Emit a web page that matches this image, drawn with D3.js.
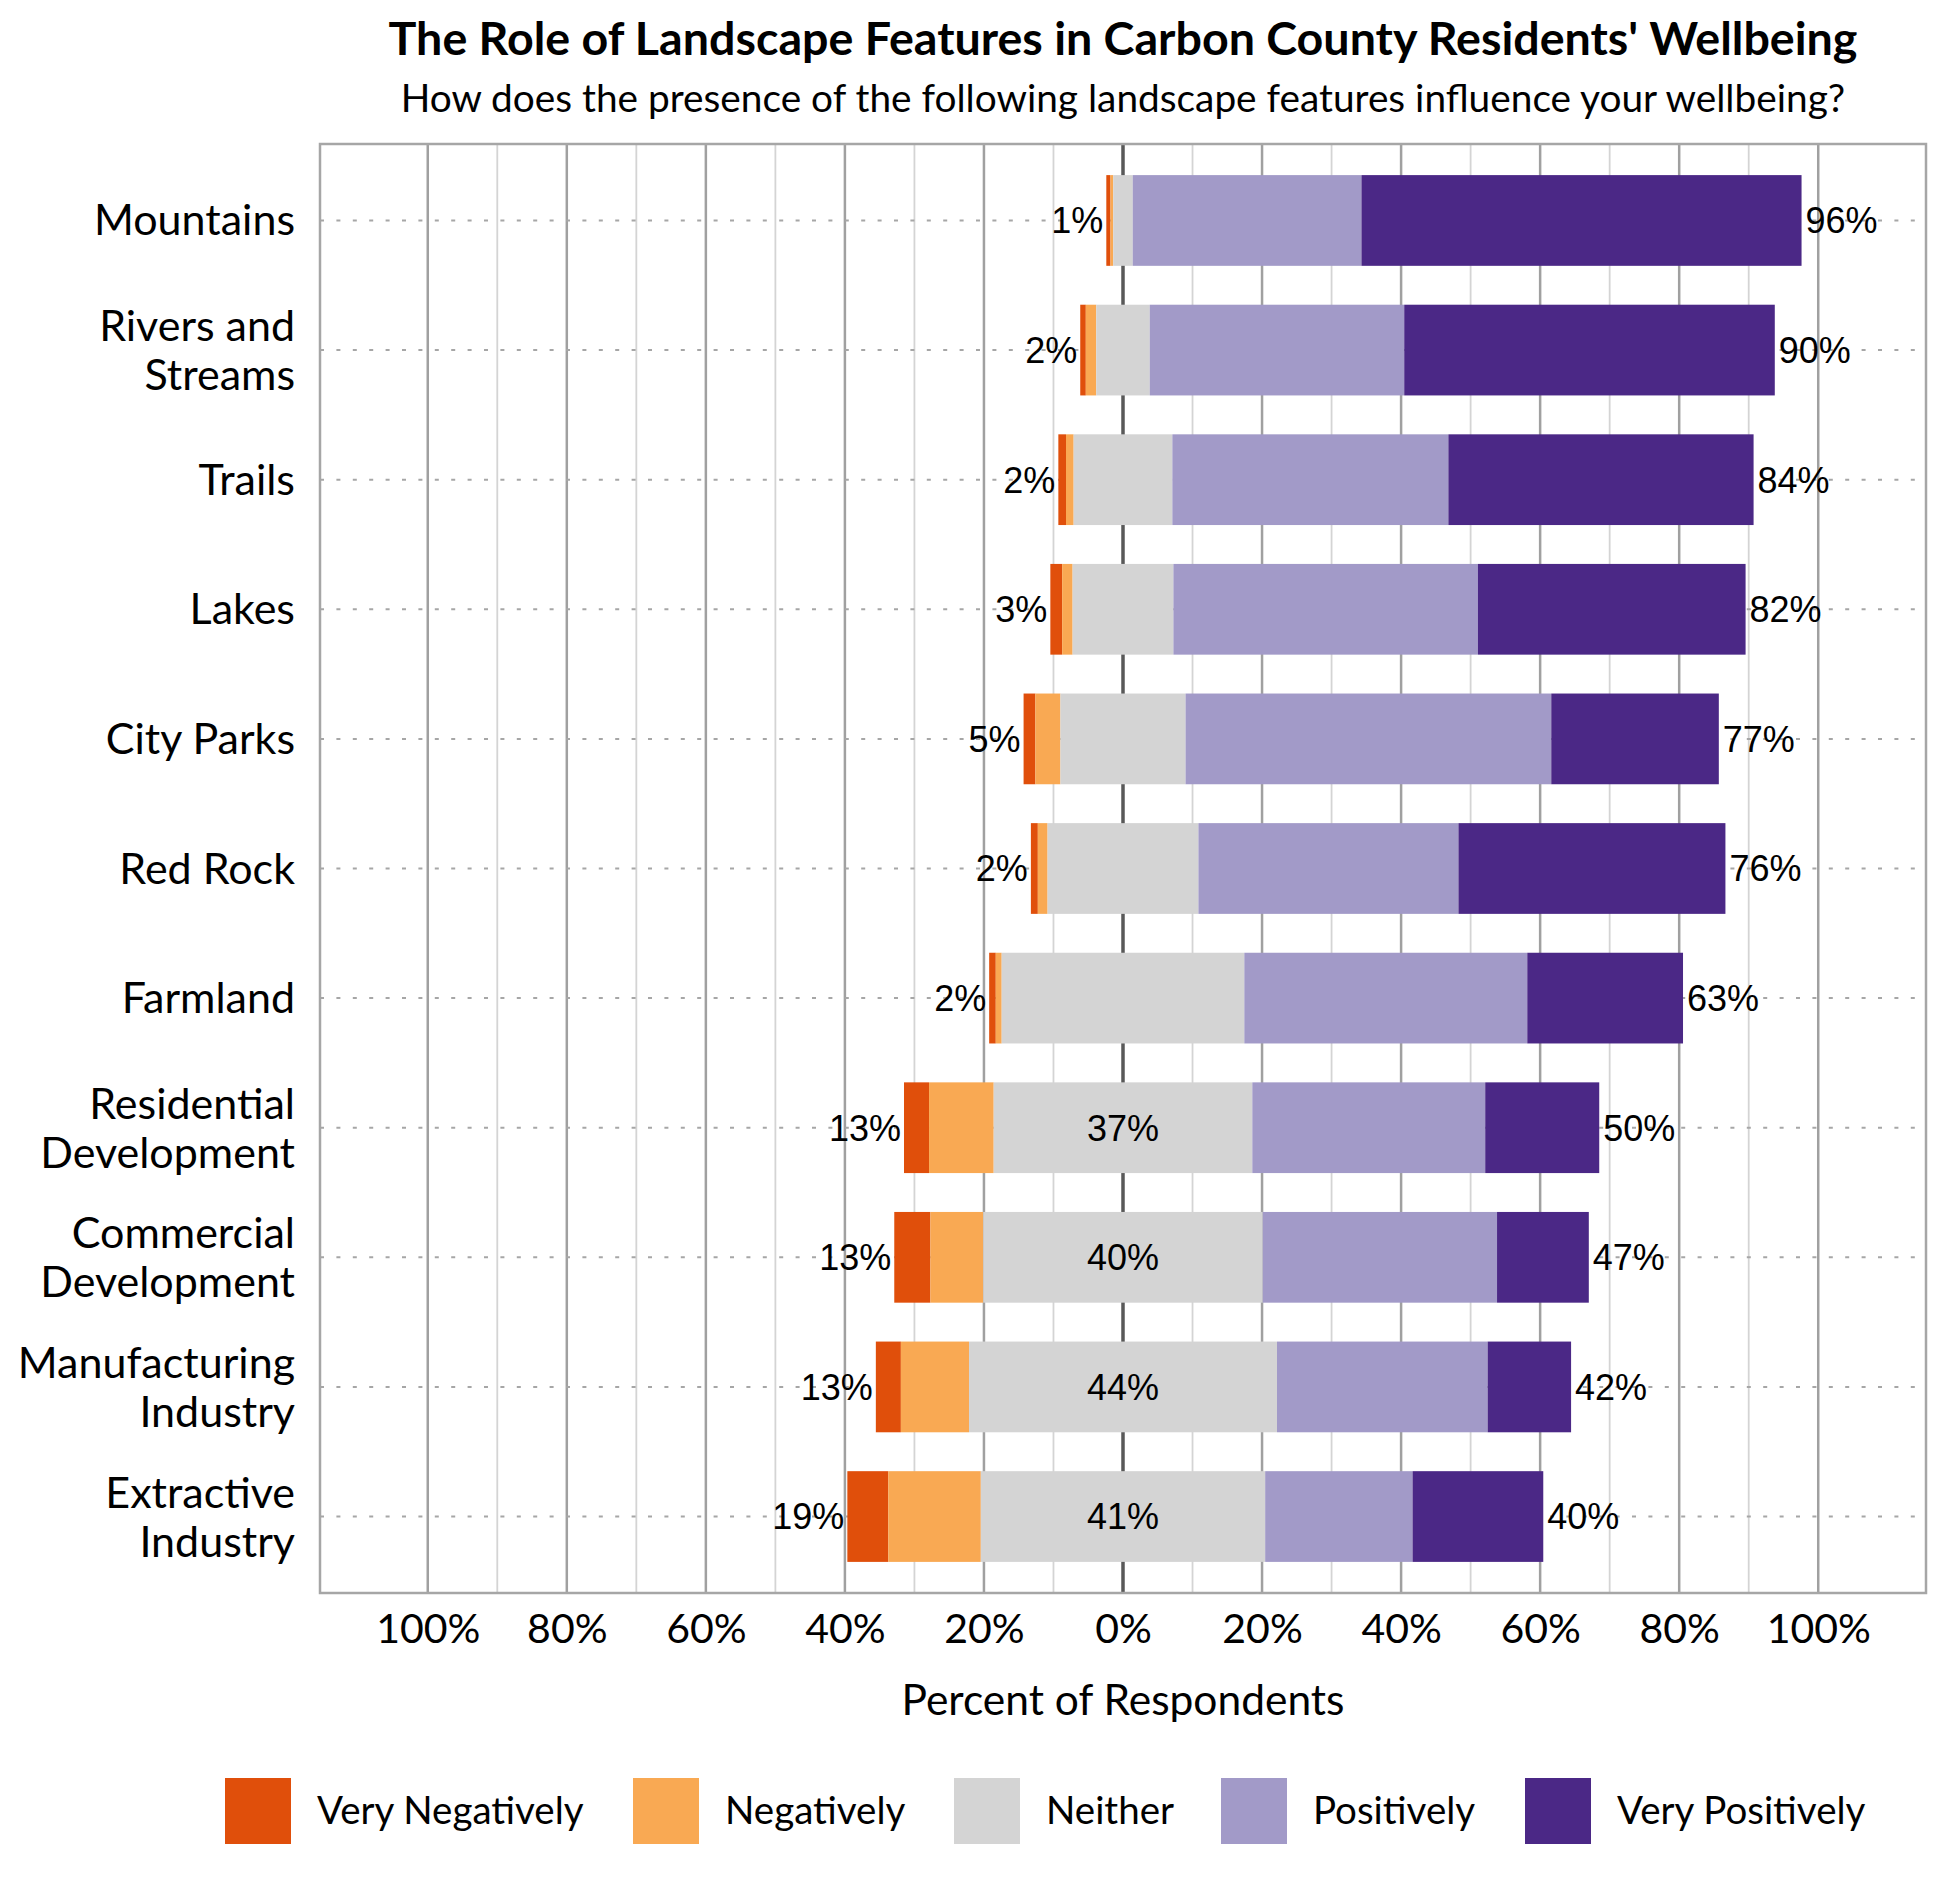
<!DOCTYPE html>
<html>
<head>
<meta charset="utf-8">
<script src="https://cdn.jsdelivr.net/npm/d3@7"></script>
<style>
  body { margin: 0; background: #fff; }
  svg { display: block; }
</style>
</head>
<body>
<div id="chart"></div>
<script>
// survey answers, percent of respondents
var categories = ["Mountains", "Rivers and Streams", "Trails", "Lakes", "City Parks", "Red Rock",
  "Farmland", "Residential Development", "Commercial Development", "Manufacturing Industry", "Extractive Industry"];
var veryNegative = [0.6, 0.8, 1.1, 1.7, 1.7, 1.0, 0.95, 3.6, 5.2, 3.6, 5.9];
var negative     = [0.4, 1.5, 1.1, 1.5, 3.6, 1.4, 0.85, 9.3, 7.6, 9.8, 13.3];
var neither      = [2.8, 7.7, 14.2, 14.5, 18.0, 21.7, 34.9, 37.2, 40.2, 44.3, 40.9];
var positive     = [32.9, 36.6, 39.7, 43.8, 52.6, 37.4, 40.7, 33.5, 33.7, 30.3, 21.2];
var veryPositive = [63.3, 53.3, 43.9, 38.5, 24.1, 38.4, 22.4, 16.4, 13.2, 12.0, 18.8];

var seriesNames = ["Very Negatively", "Negatively", "Neither", "Positively", "Very Positively"];
var seriesColors = ["#e04f0b", "#f9a953", "#d4d4d4", "#a29ac8", "#4b2886"];
var tickValues = [-100, -80, -60, -40, -20, 0, 20, 40, 60, 80, 100];

var titleText = "The Role of Landscape Features in Carbon County Residents' Wellbeing";
var subtitleText = "How does the presence of the following landscape features influence your wellbeing?";
var axisTitle = "Percent of Respondents";

var W = 1950, H = 1890;
var plot = { left: 320, right: 1926, top: 144, bottom: 1593 };
var calibri = "Lato, 'Open Sans', sans-serif";
var arial = "'Liberation Sans', Arial, sans-serif";

var svg = d3.select("#chart").append("svg")
  .attr("width", W)
  .attr("height", H);

var x = d3.scaleLinear()
  .domain([-115.5, 115.5])
  .range([plot.left, plot.right]);

var y = d3.scaleBand()
  .domain(categories)
  .range([plot.top, plot.bottom])
  .paddingInner(0.3)
  .paddingOuter(0.24);

// build rows: each segment starts where the previous ended, neither is split over 0
var rows = categories.map(function(c, i) {
  var vals = [veryNegative[i], negative[i], neither[i], positive[i], veryPositive[i]];
  var start = -(vals[0] + vals[1] + vals[2] / 2);
  var segs = [];
  vals.forEach(function(v, k) {
    segs.push({ cat: c, k: k, x0: start, x1: start + v });
    start += v;
  });
  return { cat: c, segs: segs, neg: vals[0] + vals[1], mid: vals[2], pos: vals[3] + vals[4] };
});

// titles, centred on the zero line
svg.append("text")
  .attr("x", x(0)).attr("y", 55)
  .attr("text-anchor", "middle")
  .style("font-family", calibri).style("font-weight", "bold").style("font-size", "46.6px")
  .text(titleText);

svg.append("text")
  .attr("x", x(0)).attr("y", 112)
  .attr("text-anchor", "middle")
  .style("font-family", calibri).style("font-size", "38.8px")
  .text(subtitleText);

// vertical gridlines
var grid = svg.append("g");
grid.selectAll("line")
  .data(d3.range(-100, 101, 10))
  .enter()
  .append("line")
  .attr("x1", function(d) { return x(d); })
  .attr("x2", function(d) { return x(d); })
  .attr("y1", plot.top)
  .attr("y2", plot.bottom)
  .attr("stroke", function(d) {
    if (d == 0) return "#595959";
    return d % 20 == 0 ? "#a0a0a0" : "#d4d4d4";
  })
  .attr("stroke-width", function(d) {
    if (d == 0) return 3.5;
    return d % 20 == 0 ? 2.5 : 1.8;
  });

// dotted row lines
svg.append("g").selectAll("line")
  .data(categories)
  .enter()
  .append("line")
  .attr("x1", plot.left)
  .attr("x2", plot.right)
  .attr("y1", function(d) { return y(d) + y.bandwidth() / 2; })
  .attr("y2", function(d) { return y(d) + y.bandwidth() / 2; })
  .attr("stroke", "#a6a6a6")
  .attr("stroke-width", 2)
  .attr("stroke-dasharray", "4,12.4");

// stacked bars
var barG = svg.append("g").selectAll("g")
  .data(rows)
  .enter()
  .append("g");

barG.selectAll("rect")
  .data(function(d) { return d.segs; })
  .enter()
  .append("rect")
  .attr("x", function(d) { return x(d.x0); })
  .attr("width", function(d) { return x(d.x1) - x(d.x0); })
  .attr("y", function(d) { return y(d.cat); })
  .attr("height", y.bandwidth())
  .attr("fill", function(d) { return seriesColors[d.k]; });

// percent labels
var labelG = svg.append("g")
  .style("font-family", arial)
  .style("font-size", "36px")
  .attr("fill", "#000");

labelG.selectAll("text.neg")
  .data(rows)
  .enter()
  .append("text")
  .attr("class", "neg")
  .attr("x", function(d) { return x(d.segs[0].x0) - 3; })
  .attr("y", function(d) { return y(d.cat) + y.bandwidth() / 2; })
  .attr("dy", "0.36em")
  .attr("text-anchor", "end")
  .text(function(d) { return Math.round(d.neg) + "%"; });

labelG.selectAll("text.pos")
  .data(rows)
  .enter()
  .append("text")
  .attr("class", "pos")
  .attr("x", function(d) { return x(d.segs[4].x1) + 4; })
  .attr("y", function(d) { return y(d.cat) + y.bandwidth() / 2; })
  .attr("dy", "0.36em")
  .text(function(d) { return Math.round(d.pos) + "%"; });

labelG.selectAll("text.mid")
  .data(rows.filter(function(d) { return d.mid > 36; }))
  .enter()
  .append("text")
  .attr("class", "mid")
  .attr("x", x(0))
  .attr("y", function(d) { return y(d.cat) + y.bandwidth() / 2; })
  .attr("dy", "0.36em")
  .attr("text-anchor", "middle")
  .text(function(d) { return Math.round(d.mid) + "%"; });

// plot frame
svg.append("rect")
  .attr("x", plot.left).attr("y", plot.top)
  .attr("width", plot.right - plot.left)
  .attr("height", plot.bottom - plot.top)
  .attr("fill", "none")
  .attr("stroke", "#a6a6a6")
  .attr("stroke-width", 2.5);

// category labels, long ones wrap on the last space
var catG = svg.append("g")
  .style("font-family", calibri)
  .style("font-size", "43px");

categories.forEach(function(c) {
  var cy = y(c) + y.bandwidth() / 2;
  var lines = c.length > 12 ? [c.slice(0, c.lastIndexOf(" ")), c.slice(c.lastIndexOf(" ") + 1)] : [c];
  var t = catG.append("text")
    .attr("text-anchor", "end");
  if (lines.length == 1) {
    t.attr("x", 295).attr("y", cy + 15).text(c);
  } else {
    t.append("tspan").attr("x", 295).attr("y", cy - 9).text(lines[0]);
    t.append("tspan").attr("x", 295).attr("y", cy + 40).text(lines[1]);
  }
});

// x axis
var xAxis = d3.axisBottom(x)
  .tickValues(tickValues)
  .tickSize(0)
  .tickPadding(0)
  .tickFormat(function(d) { return Math.abs(d) + "%"; });

var axG = svg.append("g")
  .attr("transform", "translate(0," + plot.bottom + ")")
  .call(xAxis);
axG.select(".domain").remove();
axG.selectAll("text")
  .attr("y", 50)
  .attr("dy", 0)
  .style("font-family", calibri)
  .style("font-size", "41px")
  .attr("fill", "#000");

svg.append("text")
  .attr("x", x(0)).attr("y", 1715)
  .attr("text-anchor", "middle")
  .style("font-family", calibri).style("font-size", "42.5px")
  .text(axisTitle);

// legend
var legendX = [225, 633, 954, 1221, 1525];
var legend = svg.append("g").selectAll("g")
  .data(seriesNames)
  .enter()
  .append("g")
  .attr("transform", function(d, i) { return "translate(" + legendX[i] + ",1778)"; });

legend.append("rect")
  .attr("width", 66)
  .attr("height", 66)
  .attr("fill", function(d, i) { return seriesColors[i]; });

legend.append("text")
  .attr("x", 92)
  .attr("y", 46)
  .style("font-family", calibri)
  .style("font-size", "38.5px")
  .text(function(d) { return d; });
</script>
</body>
</html>
